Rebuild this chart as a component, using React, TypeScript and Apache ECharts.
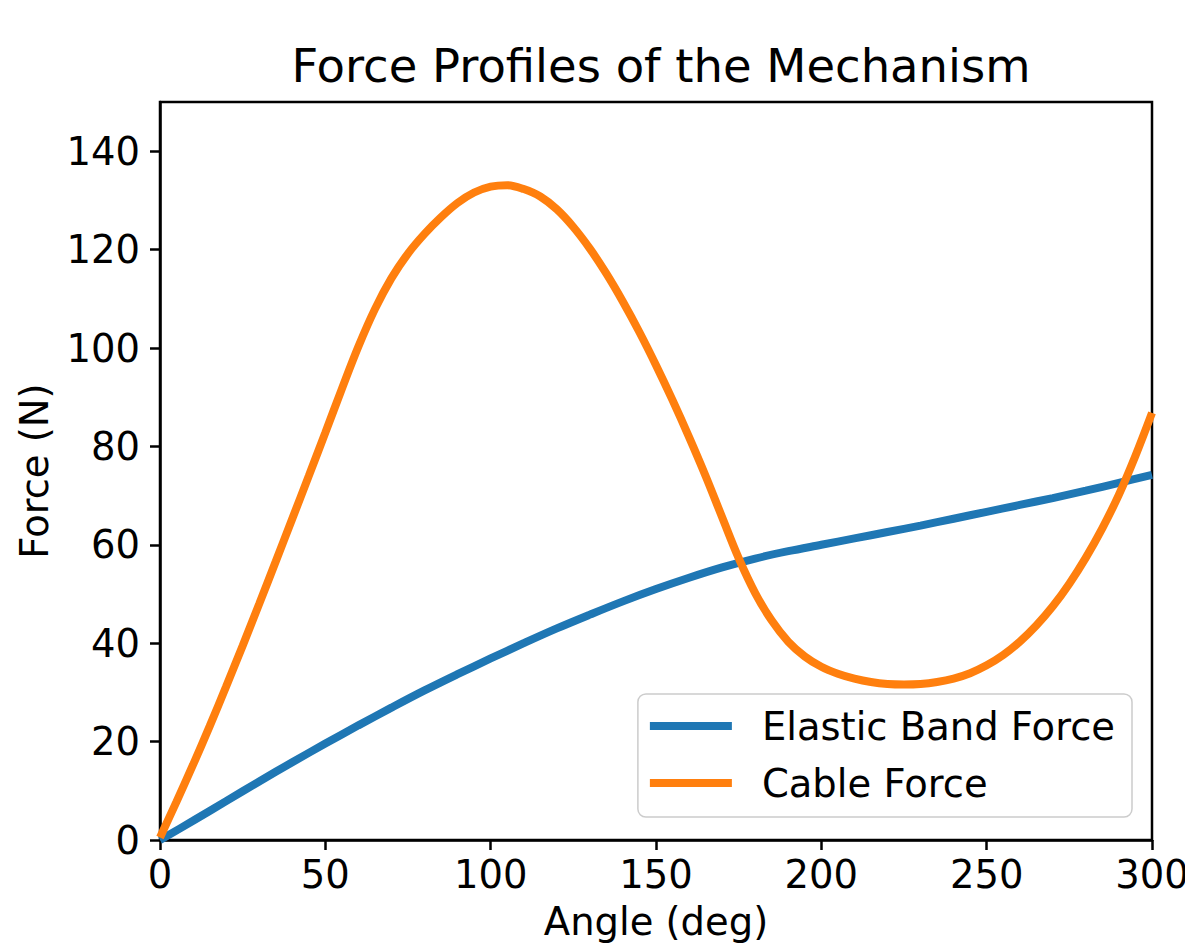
import React, { useEffect, useRef } from "react";
import * as echarts from "echarts";

const elasticAngles = [0, 10, 20, 30, 40, 50, 60, 70, 80, 90, 100, 110, 120, 130, 140, 150, 160, 170, 180, 190, 200, 210, 220, 230, 240, 250, 260, 270, 280, 290, 300];
const elasticForce = [0, 3.9, 7.9, 11.9, 15.8, 19.6, 23.3, 26.9, 30.4, 33.7, 36.9, 40.0, 43.0, 45.8, 48.5, 51.0, 53.3, 55.4, 57.2, 58.7, 60.0, 61.3, 62.6, 63.9, 65.3, 66.7, 68.1, 69.5, 71.0, 72.6, 74.2];

const cableAngles = [0, 5, 10, 15, 20, 25, 30, 35, 40, 45, 50, 55, 60, 65, 70, 75, 80, 85, 90, 95, 100, 105, 110, 115, 120, 125, 130, 135, 140, 145, 150, 155, 160, 165, 170, 175, 180, 185, 190, 195, 200, 205, 210, 215, 220, 225, 230, 235, 240, 245, 250, 255, 260, 265, 270, 275, 280, 285, 290, 295, 300];
const cableForce = [0.5, 7.8, 15.3, 23.1, 31.2, 39.5, 48.0, 56.6, 65.3, 74.0, 82.8, 91.7, 100.3, 107.9, 114.2, 119.2, 123.2, 126.6, 129.5, 131.6, 132.8, 133.1, 132.3, 130.8, 128.2, 124.6, 120.2, 115.1, 109.4, 103.2, 96.5, 89.4, 81.9, 74.0, 65.6, 57.3, 50.2, 44.6, 40.3, 37.3, 35.2, 33.8, 32.8, 32.1, 31.7, 31.6, 31.7, 32.1, 32.8, 33.9, 35.5, 37.6, 40.3, 43.6, 47.5, 52.1, 57.4, 63.4, 70.2, 78.1, 86.8];

const yTicks = [0, 20, 40, 60, 80, 100, 120, 140];
const seriesNames = ["Elastic Band Force", "Cable Force"];
const colors = ["#1f77b4", "#ff7f0e"];

const FONT = "DejaVu Sans";
const FS = 38.5;

export default function App() {
  const ref = useRef<HTMLDivElement>(null);
  useEffect(() => {
    if (!ref.current) return;
    const chart = echarts.init(ref.current, undefined, { renderer: "svg" });
    const toPairs = (xs: number[], vals: number[]) => xs.map((a, i) => [a, vals[i]]);
    chart.setOption({
      animation: false,
      backgroundColor: "#ffffff",
      title: {
        text: "Force Profiles of the Mechanism",
        left: 656,
        textAlign: "center",
        top: 37,
        textStyle: { fontFamily: FONT, fontSize: 46.5, fontWeight: "normal", color: "#000" },
      },
      grid: {
        left: 160,
        right: 33,
        top: 102,
        bottom: 105,
        containLabel: false,
        outerBoundsMode: "none",
        show: true,
        borderColor: "#000",
        borderWidth: 2.5,
        backgroundColor: "transparent",
      },
      legend: {
        orient: "vertical",
        right: 53,
        top: 694,
        data: seriesNames,
        icon: "rect",
        itemWidth: 82,
        itemHeight: 8,
        itemGap: 17,
        padding: [12, 17, 14, 12],
        backgroundColor: "#fff",
        borderColor: "#cccccc",
        borderWidth: 1.5,
        borderRadius: 8,
        textStyle: {
          fontFamily: FONT,
          fontSize: FS,
          color: "#000",
          lineHeight: 40,
          padding: [0, 0, 0, 25],
        },
      },
      xAxis: {
        type: "value",
        min: 0,
        max: 300,
        interval: 50,
        name: "Angle (deg)",
        nameLocation: "middle",
        nameGap: 62,
        nameTextStyle: { fontFamily: FONT, fontSize: FS, color: "#000" },
        axisLine: { show: true, lineStyle: { color: "#000", width: 2.5 } },
        axisTick: { show: true, inside: false, length: 10, lineStyle: { color: "#000", width: 2.5 } },
        axisLabel: { fontFamily: FONT, fontSize: FS, color: "#000", margin: 15 },
        splitLine: { show: false },
      },
      yAxis: {
        type: "value",
        min: 0,
        max: 150,
        name: "Force (N)",
        nameLocation: "middle",
        nameGap: 106,
        nameRotate: 90,
        nameTextStyle: { fontFamily: FONT, fontSize: FS, color: "#000" },
        axisLine: { show: true, lineStyle: { color: "#000", width: 2.5 } },
        axisTick: { show: true, inside: false, length: 10, customValues: yTicks, lineStyle: { color: "#000", width: 2.5 } },
        axisLabel: { fontFamily: FONT, fontSize: FS, color: "#000", margin: 20, customValues: yTicks },
        splitLine: { show: false },
      },
      series: [
        {
          name: seriesNames[0],
          type: "line",
          data: toPairs(elasticAngles, elasticForce),
          smooth: 0.35,
          showSymbol: false,
          symbol: "none",
          lineStyle: { color: colors[0], width: 8 },
          itemStyle: { color: colors[0] },
          z: 2,
        },
        {
          name: seriesNames[1],
          type: "line",
          data: toPairs(cableAngles, cableForce),
          smooth: 0.35,
          showSymbol: false,
          symbol: "none",
          lineStyle: { color: colors[1], width: 8 },
          itemStyle: { color: colors[1] },
          z: 3,
        },
      ],
    });
    return () => chart.dispose();
  }, []);
  return (
    <div
      ref={ref}
      style={{ position: "fixed", left: 0, top: 0, width: 1185, height: 945, background: "#fff" }}
    />
  );
}
